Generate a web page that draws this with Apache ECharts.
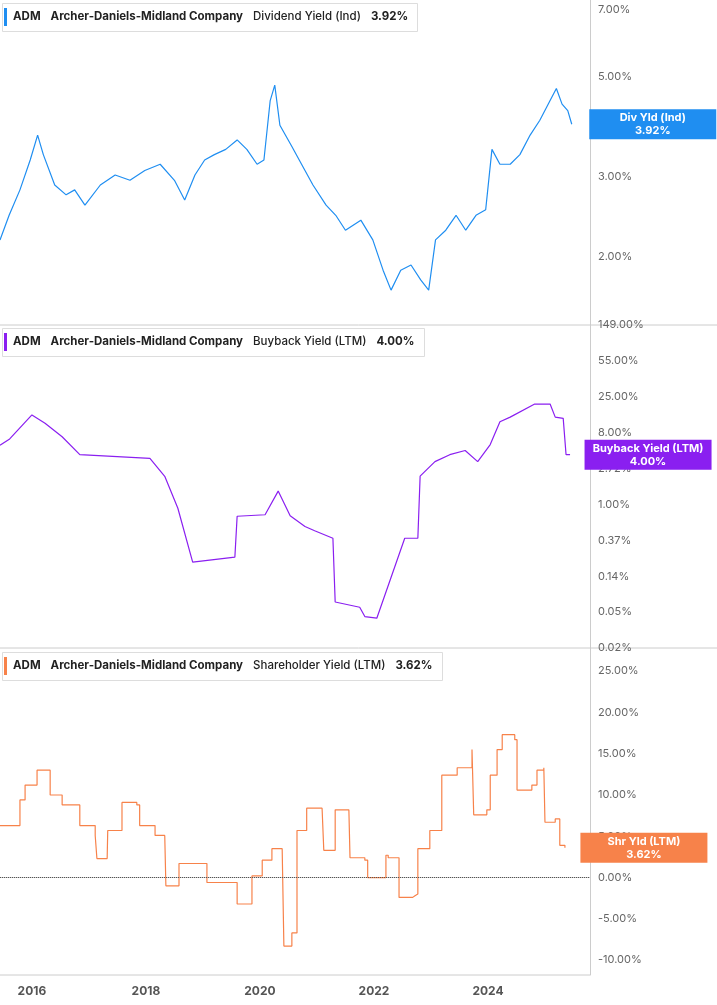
<!DOCTYPE html>
<html><head><meta charset="utf-8">
<script src="https://cdn.jsdelivr.net/npm/echarts@6/dist/echarts.min.js"></script>
<style>html,body{margin:0;padding:0;background:#fff}#c{width:717px;height:1005px}</style>
</head><body><div id="c"></div>
<script>
// decimal years and values
const divX=[2015.44,2015.6,2015.79,2015.97,2016.1,2016.2,2016.4,2016.6,2016.75,2016.93,2017.2,2017.46,2017.72,2017.98,2018.25,2018.5,2018.68,2018.86,2019.03,2019.2,2019.4,2019.6,2019.77,2019.95,2020.07,2020.18,2020.26,2020.35,2020.56,2020.73,2020.93,2021.16,2021.33,2021.5,2021.77,2021.98,2022.16,2022.3,2022.47,2022.65,2022.82,2022.96,2023.08,2023.26,2023.44,2023.61,2023.79,2023.96,2024.07,2024.21,2024.39,2024.56,2024.74,2024.91,2025.09,2025.2,2025.3,2025.4,2025.47];
const divY=[2.18,2.47,2.81,3.27,3.71,3.36,2.88,2.74,2.81,2.6,2.88,3.03,2.95,3.1,3.2,2.95,2.67,3.03,3.27,3.36,3.45,3.62,3.45,3.2,3.27,4.42,4.78,3.9,3.5,3.2,2.88,2.6,2.47,2.29,2.41,2.18,1.87,1.69,1.87,1.92,1.78,1.69,2.18,2.29,2.47,2.29,2.47,2.54,3.45,3.2,3.2,3.36,3.71,4.0,4.42,4.7,4.34,4.2,3.92];
const bbX=[2015.44,2015.61,2016.0,2016.23,2016.53,2016.84,2018.07,2018.33,2018.56,2018.82,2019.56,2019.6,2020.09,2020.32,2020.53,2020.79,2020.96,2021.28,2021.32,2021.75,2021.84,2022.05,2022.54,2022.77,2022.81,2023.07,2023.33,2023.6,2023.82,2024.04,2024.21,2024.39,2024.82,2025.09,2025.18,2025.32,2025.37,2025.44];
const bbY=[5.2,6.2,12.1,9.6,6.6,4.0,3.6,2.19,0.90,0.20,0.23,0.72,0.75,1.45,0.73,0.54,0.48,0.39,0.066,0.057,0.044,0.042,0.39,0.39,2.2,3.3,4.0,4.5,3.3,5.3,10,11.4,16.4,16.4,11.4,11.0,4.0,4.0];
const shX=[2015.44,2015.79,2015.88,2016.09,2016.32,2016.53,2016.84,2017.11,2017.14,2017.32,2017.33,2017.54,2017.58,2017.84,2017.89,2018.16,2018.33,2018.35,2018.54,2018.58,2019.02,2019.07,2019.56,2019.6,2019.82,2019.86,2020.04,2020.21,2020.39,2020.42,2020.56,2020.65,2020.82,2021.09,2021.12,2021.28,2021.32,2021.56,2021.58,2021.84,2021.89,2022.05,2022.21,2022.25,2022.44,2022.68,2022.72,2022.77,2022.98,2023.19,2023.46,2023.72,2023.75,2023.98,2024.04,2024.16,2024.25,2024.47,2024.51,2024.77,2024.86,2024.98,2025.0,2025.18,2025.26,2025.35];
const shY=[6.3,9.4,11.2,13.0,10.0,8.8,6.3,5.1,2.3,2.3,5.7,5.7,9.1,8.8,6.3,5.1,5.0,-1.0,-1.0,1.7,1.7,-0.6,-0.6,-3.2,-3.2,0.2,2.1,3.5,3.5,-8.3,-6.7,5.7,8.4,8.2,3.3,3.3,8.2,8.0,2.4,2.1,0,0,2.7,2.4,-2.4,-2.2,-2.0,3.5,5.7,12.4,13.3,15.5,7.6,8.2,12.4,15.5,17.3,16.7,10.6,11.2,13.0,13.3,6.7,7.1,3.9,3.6];
const divLabels=[2,3,5,7];
const bbTicks=[-4,-3,-2,-1,0,1,2,3,4,5];
const bbLabels=['0.02%','0.05%','0.14%','0.37%','1.00%','2.72%','8.00%','25.00%','55.00%','149.00%'];
const yearTicks=[2016,2018,2020,2022,2024];

const BLUE='#1f8ef1',PURPLE='#8a1ff0',ORANGE='#f7824a';
const xmin=2015.44,xmax=2025.79;
const lbl={color:'#666',fontSize:11,fontFamily:'Inter'};
function xa(i,show){return {type:'value',gridIndex:i,min:xmin,max:xmax,
  axisLine:{show:show,lineStyle:{color:'#ccc'}},axisTick:{show:false},splitLine:{show:false},
  axisLabel:{show:show,customValues:yearTicks,formatter:v=>String(Math.round(v)),color:'#555',fontSize:12,fontWeight:'bold',fontFamily:'Inter',margin:10}};}
function ya(i,o){return Object.assign({type:'value',gridIndex:i,position:'right',
  axisLine:{show:true,lineStyle:{color:'#ccc'}},axisTick:{show:false},splitLine:{show:false}},o);}
function tag(color,text,xoff){return {symbol:'rect',symbolSize:[127,30],symbolOffset:[xoff,0],silent:true,
  itemStyle:{color:color},label:{show:true,color:'#fff',fontSize:11,fontWeight:'bold',fontFamily:'Inter',lineHeight:13,formatter:text}};}
const L=divX.length-1,Bl=bbX.length-1,Sl=shX.length-1;
function hdr(y,color,name,val,w){return [
  {type:'rect',left:2,top:y,shape:{width:w,height:28},style:{fill:'#fff',stroke:'#ddd'}},
  {type:'rect',left:4,top:y+5,shape:{width:3,height:18},style:{fill:color}},
  {type:'text',left:13,top:y+8,style:{text:'{b|ADM}   {b|Archer-Daniels-Midland Company}   {n|'+name+'}   {b|'+val+'}',
    rich:{b:{fontWeight:'bold',fontSize:11.5,fontFamily:'Inter',fill:'#222'},n:{fontSize:11.5,fontFamily:'Inter',fill:'#222',fontWeight:500}}}}];}
const opt={animation:false,
 grid:[{left:0,right:127,top:0,height:325},{left:0,right:127,top:325,height:323},{left:0,right:127,top:648,height:327}],
 xAxis:[xa(0,false),xa(1,false),xa(2,true)],
 yAxis:[ya(0,{min:Math.log(1.416),max:Math.log(7.36),axisLabel:Object.assign({customValues:divLabels.map(Math.log),formatter:v=>Math.exp(v).toFixed(2)+'%'},lbl)}),
   ya(1,{min:-4,max:5,axisLabel:Object.assign({customValues:bbTicks,formatter:v=>bbLabels[bbTicks.indexOf(Math.round(v))]},lbl)}),
   ya(2,{min:-11.8,max:27.8,axisLabel:Object.assign({customValues:[-10,-5,0,5,10,15,20,25],formatter:v=>v.toFixed(2)+'%'},lbl)})],
 series:[
  {type:'line',xAxisIndex:0,yAxisIndex:0,data:divX.map((x,i)=>[x,Math.log(divY[i])]),showSymbol:false,lineStyle:{color:BLUE,width:1.2},
   markPoint:{data:[Object.assign({coord:[divX[L],Math.log(divY[L])]},tag(BLUE,'Div Yld (Ind)\n3.92%',81))]}},
  {type:'line',xAxisIndex:1,yAxisIndex:1,data:bbX.map((x,i)=>[x,Math.log(bbY[i])]),showSymbol:false,lineStyle:{color:PURPLE,width:1.2},
   markPoint:{data:[Object.assign({coord:[bbX[Bl],Math.log(bbY[Bl])]},tag(PURPLE,'Buyback Yield (LTM)\n4.00%',78))]}},
  {type:'line',xAxisIndex:2,yAxisIndex:2,step:'end',data:shX.map((x,i)=>[x,shY[i]]),showSymbol:false,lineStyle:{color:ORANGE,width:1.2},
   markLine:{silent:true,symbol:'none',label:{show:false},lineStyle:{color:'#555',type:'dotted',width:1},data:[{yAxis:0}]},
   markPoint:{data:[Object.assign({coord:[shX[Sl],shY[Sl]]},tag(ORANGE,'Shr Yld (LTM)\n3.62%',79))]}}
 ],
 graphic:[
  {type:'line',shape:{x1:0,y1:325,x2:717,y2:325},style:{stroke:'#ccc'}},
  {type:'line',shape:{x1:0,y1:648,x2:717,y2:648},style:{stroke:'#ccc'}},
  {type:'line',shape:{x1:0,y1:975,x2:590,y2:975},style:{stroke:'#ccc'}},
  ...hdr(3,BLUE,'Dividend Yield (Ind)','3.92%',415),
  ...hdr(328,PURPLE,'Buyback Yield (LTM)','4.00%',422),
  ...hdr(652,ORANGE,'Shareholder Yield (LTM)','3.62%',440)]
};
echarts.init(document.getElementById('c')).setOption(opt);
</script></body></html>
